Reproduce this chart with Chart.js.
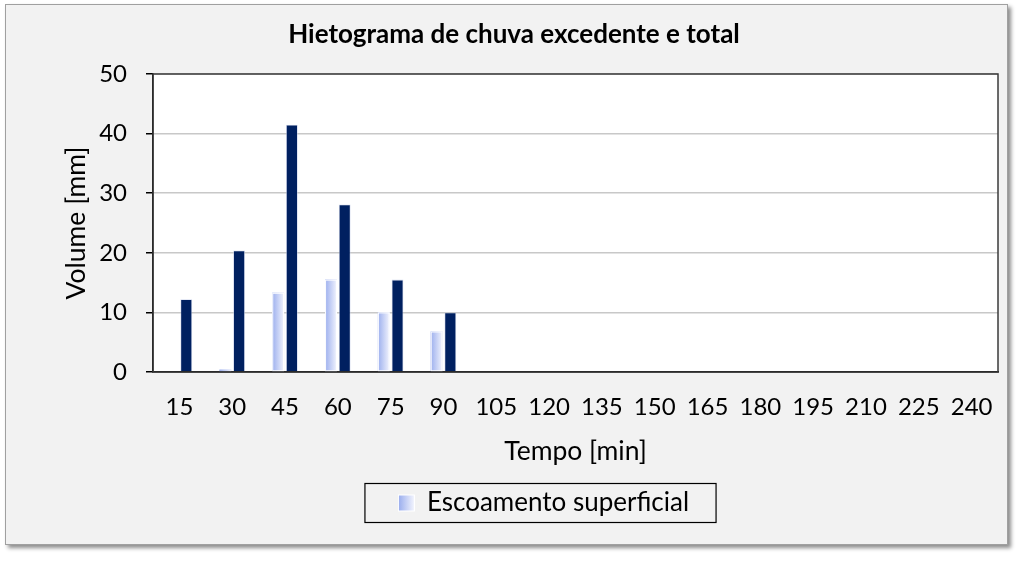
<!DOCTYPE html>
<html>
<head>
<meta charset="utf-8">
<script src="https://cdn.jsdelivr.net/npm/chart.js@4.4.1/dist/chart.umd.min.js"></script>
<style>
  html, body { margin: 0; padding: 0; background: #ffffff; }
  #wrap { width: 1024px; height: 561px; position: relative; }
</style>
</head>
<body>
<div id="wrap"><canvas id="c"></canvas></div>
<script>
const categories = ['15','30','45','60','75','90','105','120','135','150','165','180','195','210','225','240'];
const excessRain = [0, 0.4, 13.3, 15.5, 10.0, 6.8, 0, 0, 0, 0, 0, 0, 0, 0, 0, 0];
const totalRain  = [12.2, 20.4, 41.5, 28.1, 15.5, 10.0, 0, 0, 0, 0, 0, 0, 0, 0, 0, 0];
const yTicks = [0, 10, 20, 30, 40, 50];
const titleText = 'Hietograma de chuva excedente e total';
const xTitle = 'Tempo [min]';
const yTitle = 'Volume [mm]';
const excessLabel = 'Escoamento superficial';
const totalLabel = 'Chuva total';

const FONT = 'Lato, "Open Sans", sans-serif';
const LEGEND_SHIFT = 30;

function hGrad(ctx, x0, x1) {
  const g = ctx.createLinearGradient(x0, 0, x1, 0);
  g.addColorStop(0, '#9cafee');
  g.addColorStop(1, '#f1f3fd');
  return g;
}

const framePlugin = {
  id: 'frame',
  afterLayout(chart) {
    const lg = chart.legend;
    if (lg) { lg.left += LEGEND_SHIFT; lg.right += LEGEND_SHIFT; }
  },
  beforeDraw(chart) {
    const ctx = chart.ctx;
    const a = chart.chartArea;
    ctx.save();
    ctx.fillStyle = '#ffffff';
    ctx.fillRect(0, 0, chart.width, chart.height);
    ctx.shadowColor = 'rgba(0,0,0,0.45)';
    ctx.shadowOffsetX = 3;
    ctx.shadowOffsetY = 3;
    ctx.shadowBlur = 4;
    ctx.fillStyle = '#f2f2f2';
    ctx.fillRect(5, 4, 1003, 541);
    ctx.shadowColor = 'transparent';
    ctx.strokeStyle = '#a0a0a0';
    ctx.lineWidth = 1;
    ctx.strokeRect(5.5, 4.5, 1002, 540);
    ctx.fillStyle = '#ffffff';
    ctx.fillRect(a.left, a.top, a.right - a.left, a.bottom - a.top);
    ctx.restore();
  },
  afterDatasetsDraw(chart) {
    const ctx = chart.ctx;
    const meta = chart.getDatasetMeta(0);
    ctx.save();
    meta.data.forEach((el, i) => {
      if (!excessRain[i]) return;
      const p = el.getProps(['x', 'y', 'base', 'width'], true);
      const x0 = p.x - p.width / 2, x1 = p.x + p.width / 2;
      const h = p.base - p.y;
      ctx.fillStyle = hGrad(ctx, x0, x1);
      ctx.fillRect(x0, p.y, p.width, h);
      if (h > 4) {
        ctx.strokeStyle = '#ffffff';
        ctx.lineWidth = 1;
        ctx.strokeRect(x0 + 0.5, p.y + 0.5, p.width - 1, h - 1);
      }
    });
    ctx.restore();
  },
  afterDraw(chart) {
    const ctx = chart.ctx;
    const a = chart.chartArea;
    ctx.save();
    ctx.strokeStyle = '#3a3a3a';
    ctx.lineWidth = 1.5;
    ctx.strokeRect(a.left, a.top, a.right - a.left, a.bottom - a.top);
    const lg = chart.legend;
    if (lg && lg.legendHitBoxes && lg.legendHitBoxes.length) {
      const hb = lg.legendHitBoxes[0];
      const cy = hb.top + hb.height / 2;
      ctx.strokeStyle = '#000000';
      ctx.lineWidth = 1.2;
      ctx.strokeRect(hb.left - 34, cy - 19.5, hb.width + 61, 39);
      const bx = hb.left, by = cy - 7.5;
      ctx.fillStyle = '#ffffff';
      ctx.fillRect(bx - 1, by - 1, 17, 17);
      ctx.fillStyle = hGrad(ctx, bx, bx + 15);
      ctx.fillRect(bx, by, 15, 15);
    }
    ctx.restore();
  }
};

new Chart(document.getElementById('c'), {
  type: 'bar',
  data: {
    labels: categories,
    datasets: [
      {
        label: excessLabel,
        data: excessRain,
        backgroundColor: '#c3cdf4',
        borderColor: '#ffffff',
        borderWidth: 0,
        categoryPercentage: 0.52,
        barPercentage: 0.86
      },
      {
        label: totalLabel,
        data: totalRain,
        backgroundColor: '#002060',
        borderColor: 'rgba(190,200,230,0.7)',
        borderWidth: (c) => (c.raw ? 0.8 : 0),
        categoryPercentage: 0.52,
        barPercentage: 0.86
      }
    ]
  },
  options: {
    responsive: true,
    maintainAspectRatio: false,
    animation: false,
    devicePixelRatio: 1,
    layout: { padding: { left: 30, right: 26, top: 0, bottom: 35 } },
    plugins: {
      title: {
        display: true,
        text: titleText,
        color: '#000000',
        font: { family: FONT, size: 26, weight: 'bold', lineHeight: 1.2 },
        padding: { top: 19.4, bottom: 23.4 }
      },
      legend: {
        display: true,
        position: 'bottom',
        labels: {
          color: '#000000',
          font: { family: FONT, size: 26, lineHeight: 1.2 },
          boxWidth: 15,
          boxHeight: 15,
          padding: 18,
          filter: (item) => item.datasetIndex === 0
        }
      },
      tooltip: { enabled: false }
    },
    scales: {
      x: {
        grid: { display: false, drawTicks: false },
        border: { display: true, color: '#000000', width: 1.5 },
        ticks: {
          color: '#000000',
          font: { family: FONT, size: 24, lineHeight: 1.2 },
          padding: 21,
          maxRotation: 0,
          autoSkip: false
        },
        title: {
          display: true,
          text: xTitle,
          color: '#000000',
          font: { family: FONT, size: 26.5, lineHeight: 1.2 },
          padding: { top: 0, bottom: 5 }
        },
        afterFit(scale) { scale.height = 100; }
      },
      y: {
        min: 0,
        max: 50,
        afterBuildTicks(scale) { scale.ticks = yTicks.map(v => ({ value: v })); },
        grid: { color: '#c8c8c8', lineWidth: 1.5, tickColor: '#000000', tickLength: 7, drawTicks: true },
        border: { display: true, color: '#000000', width: 1.5 },
        ticks: {
          color: '#000000',
          font: { family: FONT, size: 24, lineHeight: 1.2 },
          padding: 19
        },
        title: {
          display: true,
          text: yTitle,
          color: '#000000',
          font: { family: FONT, size: 26.5, lineHeight: 1.2 },
          padding: { top: 31, bottom: 0 }
        },
        afterFit(scale) { scale.width = 123; }
      }
    }
  },
  plugins: [framePlugin]
});
</script>
</body>
</html>
